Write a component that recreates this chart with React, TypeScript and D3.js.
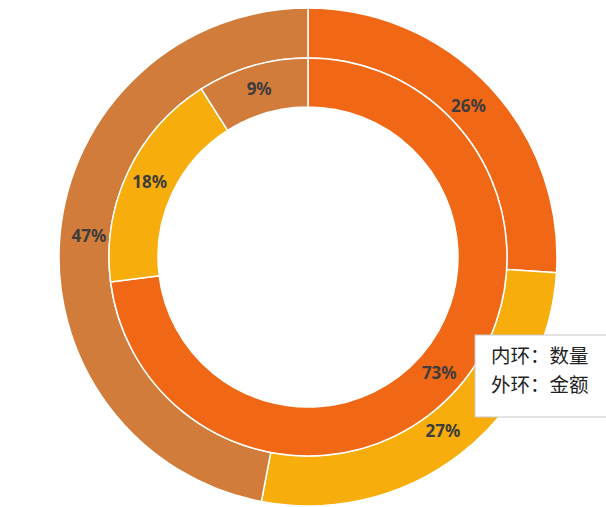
import React, { useEffect, useRef } from "react"
import * as d3 from "d3"

// inner ring: 数量, outer ring: 金额
const categories = ["A", "B", "C"]
const innerValues = [73, 18, 9]
const outerValues = [26, 27, 47]
const legendLines = ["内环：数量", "外环：金额"]

const colors = ["#F06716", "#F7AD0C", "#D17C3A"]

function App() {
    const svgRef = useRef<SVGSVGElement>(null)

    useEffect(() => {
        const width = 606
        const height = 507
        const cx = 308
        const cy = 257
        const rOuter = 249
        const rMid = 199
        const rInner = 150

        const svg = d3.select(svgRef.current)
        svg.selectAll("*").remove()
        svg.attr("width", width).attr("height", height)

        const g = svg.append("g").attr("transform", `translate(${cx},${cy})`)

        const pie = d3.pie<number>().sort(null).value((d) => d)

        const color = d3.scaleOrdinal<number, string>().domain(d3.range(categories.length)).range(colors)

        const rings = [
            { values: outerValues, r0: rMid, r1: rOuter, labelR: 220 },
            { values: innerValues, r0: rInner, r1: rMid, labelR: 175 },
        ]

        rings.forEach((ring) => {
            const arcs = pie(ring.values)
            const arc = d3.arc<d3.PieArcDatum<number>>().innerRadius(ring.r0).outerRadius(ring.r1)
            const labelArc = d3.arc<d3.PieArcDatum<number>>().innerRadius(ring.labelR).outerRadius(ring.labelR)

            g.append("g")
                .selectAll("path")
                .data(arcs)
                .join("path")
                .attr("d", arc)
                .attr("fill", (d) => color(d.index))
                .attr("stroke", "#fff")
                .attr("stroke-width", 1.5)

            g.append("g")
                .selectAll("text")
                .data(arcs)
                .join("text")
                .attr("transform", (d) => `translate(${labelArc.centroid(d)})`)
                .attr("text-anchor", "middle")
                .attr("dy", "0.35em")
                .style("font-family", "'Noto Sans', 'Open Sans', sans-serif")
                .style("font-weight", "bold")
                .style("font-size", "17px")
                .attr("fill", "#3d3d3d")
                .text((d) => `${d.data}%`)
        })

        // legend box
        const legend = svg.append("g").attr("transform", "translate(475,335)")
        legend.append("rect")
            .attr("width", 140)
            .attr("height", 82)
            .attr("fill", "#fff")
            .attr("stroke", "#c8c8c8")
            .attr("stroke-width", 1)

        legend.selectAll("text")
            .data(legendLines)
            .join("text")
            .attr("x", 16)
            .attr("y", (d, i) => 28 + i * 29)
            .style("font-family", "'Noto Sans CJK SC', sans-serif")
            .style("font-size", "19.5px")
            .attr("fill", "#1f1f1f")
            .text((d) => d)
    }, [])

    return <svg ref={svgRef} style={{ position: "absolute", left: 0, top: 0 }} />
}

export default App
